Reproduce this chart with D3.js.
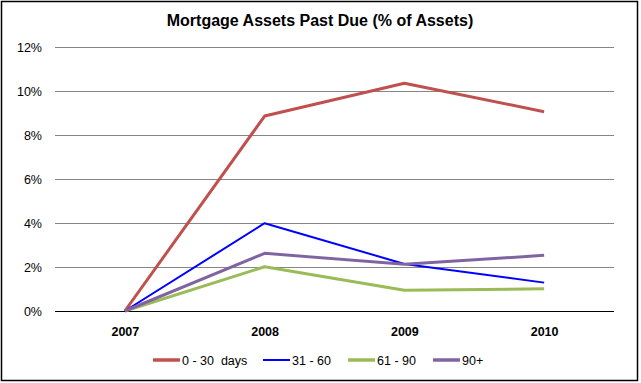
<!DOCTYPE html>
<html>
<head>
<meta charset="utf-8">
<script src="https://cdn.jsdelivr.net/npm/d3@7"></script>
<style>
  html, body { margin: 0; padding: 0; background: #fff; }
  svg { display: block; font-family: "Liberation Sans", Arial, sans-serif; }
</style>
</head>
<body>
<svg id="chart" width="641" height="383"></svg>
<script>
const categories = ["2007", "2008", "2009", "2010"];
const seriesNames = ["0 - 30  days", "31 - 60", "61 - 90", "90+"];
const days0to30 = [0, 8.86, 10.35, 9.06];
const days31to60 = [0, 3.99, 2.14, 1.29];
const days61to90 = [0, 2.01, 0.94, 1.01];
const days90plus = [0, 2.62, 2.12, 2.53];
const yTicks = [0, 2, 4, 6, 8, 10, 12];
const title = "Mortgage Assets Past Due (% of Assets)";

const seriesValues = [days0to30, days31to60, days61to90, days90plus];
const colors = ["#C0504D", "#0000FF", "#9BBB59", "#8064A2"];
const widths = [3, 2, 3, 3];

const svg = d3.select("#chart");

// outer border
svg.append("rect")
  .attr("x", 1.5).attr("y", 1.5)
  .attr("width", 636).attr("height", 379)
  .attr("fill", "#fff").attr("stroke", "#000").attr("stroke-width", 1.5);

const plotLeft = 55, plotRight = 614, plotTop = 47, plotBottom = 311;

const x = d3.scalePoint().domain(categories).range([plotLeft, plotRight]).padding(0.5);
const y = d3.scaleLinear().domain([0, 12]).range([plotBottom, plotTop]);

// title
svg.append("text")
  .attr("x", 320).attr("y", 26)
  .attr("text-anchor", "middle")
  .attr("font-size", "16px").attr("font-weight", "bold")
  .text(title);

// y axis labels
const yAxis = d3.axisLeft(y).tickValues(yTicks).tickSize(0).tickPadding(0)
  .tickFormat(d => d + "%");
const gy = svg.append("g").attr("transform", `translate(${plotLeft},0)`).call(yAxis);
gy.select(".domain").remove();
gy.selectAll(".tick line").remove();
gy.selectAll(".tick text")
  .attr("x", -13).attr("dy", "0.36em")
  .attr("font-size", "12.5px").attr("fill", "#000")
  .attr("font-family", "'Liberation Sans', Arial, sans-serif");

// gridlines
svg.append("g").selectAll("line")
  .data(yTicks.filter(d => d !== 0))
  .join("line")
  .attr("x1", plotLeft).attr("x2", plotRight)
  .attr("y1", d => Math.round(y(d)) + 0.5).attr("y2", d => Math.round(y(d)) + 0.5)
  .attr("stroke", "#868686").attr("stroke-width", 1);

// x axis
const xAxis = d3.axisBottom(x).tickSize(0).tickPadding(0);
const gx = svg.append("g").attr("transform", `translate(0,${plotBottom})`).call(xAxis);
gx.select(".domain").remove();
gx.selectAll(".tick text")
  .attr("y", 25).attr("dy", 0)
  .attr("font-size", "12.5px").attr("font-weight", "bold").attr("fill", "#000")
  .attr("font-family", "'Liberation Sans', Arial, sans-serif");

svg.append("line")
  .attr("x1", plotLeft).attr("x2", plotRight)
  .attr("y1", plotBottom + 0.5).attr("y2", plotBottom + 0.5)
  .attr("stroke", "#000").attr("stroke-width", 1.2);

// lines
const line = d3.line().x((d, i) => x(categories[i])).y(d => y(d));
svg.append("g").selectAll("path")
  .data(seriesValues)
  .join("path")
  .attr("d", d => line(d))
  .attr("fill", "none")
  .attr("stroke", (d, i) => colors[i])
  .attr("stroke-width", (d, i) => widths[i])
  .attr("stroke-linejoin", "round");

// legend
const legendX = [153, 263, 348, 433];
const lg = svg.append("g");
seriesNames.forEach((name, i) => {
  lg.append("line")
    .attr("x1", legendX[i]).attr("x2", legendX[i] + 27)
    .attr("y1", 360).attr("y2", 360)
    .attr("stroke", colors[i]).attr("stroke-width", widths[i] + (i === 1 ? 0 : 0.5));
  lg.append("text")
    .attr("x", legendX[i] + 29).attr("y", 365)
    .attr("font-size", "12.5px").attr("fill", "#000")
    .attr("xml:space", "preserve")
    .style("white-space", "pre")
    .text(name);
});
</script>
</body>
</html>
